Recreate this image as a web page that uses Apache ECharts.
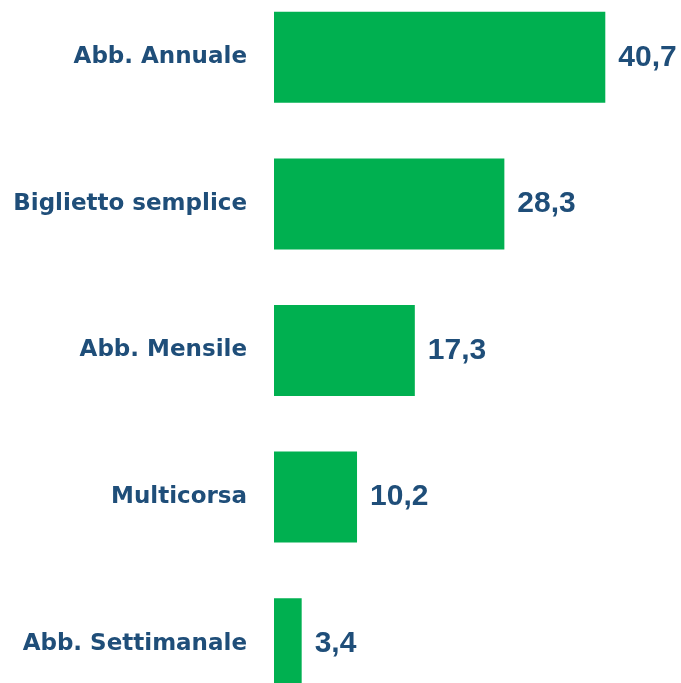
<!DOCTYPE html>
<html>
<head>
<meta charset="utf-8">
<script src="https://cdn.jsdelivr.net/npm/echarts@6/dist/echarts.min.js"></script>
<style>
  html, body { margin: 0; padding: 0; background: #fff; overflow: hidden; }
  /* the plot runs a little past the top and bottom edges of the picture */
  #chart { width: 681px; height: 733px; margin-top: -16px; }
</style>
</head>
<body>
<div id="chart"></div>
<script>
  // Tipologia di titolo di viaggio (%)
  var categories = ['Abb. Annuale', 'Biglietto semplice', 'Abb. Mensile', 'Multicorsa', 'Abb. Settimanale'];
  var values = [40.7, 28.3, 17.3, 10.2, 3.4];

  var textColor = '#1f4e79';

  var chart = echarts.init(document.getElementById('chart'));
  var option = {
    backgroundColor: '#fff',
    animation: false,
    grid: {
      left: 274,
      right: 0,
      top: 0,
      bottom: 0
    },
    xAxis: {
      type: 'value',
      min: 0,
      max: 50,
      show: false
    },
    yAxis: {
      type: 'category',
      inverse: true,
      data: categories,
      axisLine: { show: false },
      axisTick: { show: false },
      splitLine: { show: false },
      axisLabel: {
        margin: 27,
        color: textColor,
        fontFamily: 'DejaVu Sans',
        fontWeight: 'bold',
        fontSize: 23
      }
    },
    series: [
      {
        type: 'bar',
        data: values,
        barWidth: 91,
        itemStyle: { color: '#00b050' },
        label: {
          show: true,
          position: 'right',
          distance: 13,
          color: textColor,
          fontFamily: 'Liberation Sans',
          fontWeight: 'bold',
          fontSize: 30,
          formatter: function (p) {
            return String(p.value).replace('.', ',');
          }
        }
      }
    ]
  };
  chart.setOption(option);
</script>
</body>
</html>
